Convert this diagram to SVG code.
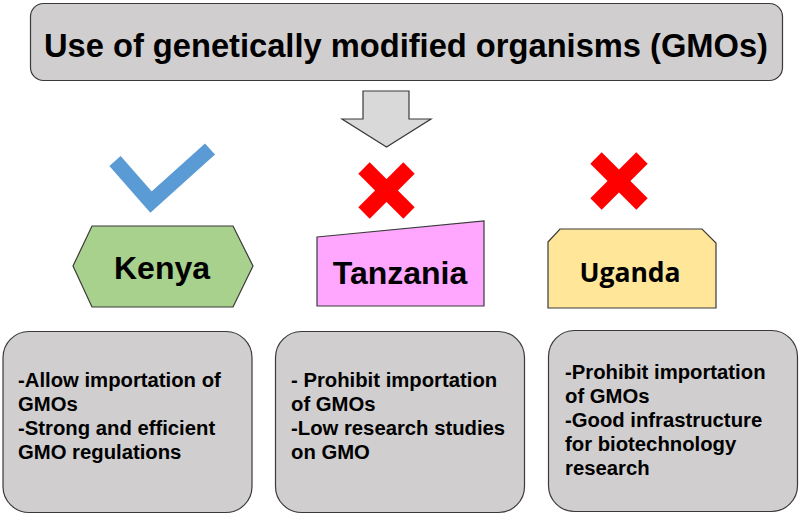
<svg xmlns="http://www.w3.org/2000/svg" width="800" height="516" viewBox="0 0 800 516">
<style>
.box{fill:#d0cece;stroke:#3a3a3a;stroke-width:1.2}
.t{font-family:"Liberation Sans",Arial,sans-serif;font-weight:bold;fill:#000}
.body{font-size:20.3px}
.lbl{font-size:32px;text-anchor:middle}
.x{stroke:#ff0000;stroke-width:16;fill:none}
</style>
<rect width="800" height="516" fill="#ffffff"/>
<g id="title">
<rect class="box" x="30.5" y="3.5" width="752" height="77" rx="13"/>
<text class="t" x="406" y="57" font-size="34" text-anchor="middle" textLength="724" lengthAdjust="spacingAndGlyphs">Use of genetically modified organisms (GMOs)</text>
</g>
<g id="connectors">
<polygon points="363,91 409,91 409,119 431,119 386.5,147 342,119 363,119" fill="#d9d9d9" stroke="#3a3a3a" stroke-width="1.2"/>
</g>
<g id="check">
<polyline points="115,161 151,202 210,149" fill="none" stroke="#5b9bd5" stroke-width="15" stroke-linejoin="miter"/>
</g>
<g id="cross-tanzania">
<line class="x" x1="364" y1="168" x2="409" y2="213"/>
<line class="x" x1="409" y1="168" x2="364" y2="213"/>
</g>
<g id="cross-uganda">
<line class="x" x1="596" y1="158" x2="642" y2="204"/>
<line class="x" x1="642" y1="158" x2="596" y2="204"/>
</g>
<g id="kenya">
<polygon points="73,266 92,226 233,226 253,266 233,307 92,307" fill="#a9d18e" stroke="#3a3a3a" stroke-width="1.2"/>
<text class="t lbl" x="162" y="279">Kenya</text>
</g>
<g id="tanzania">
<polygon points="317,237 484,221 484,306 317,306" fill="#ffa6ff" stroke="#3a3a3a" stroke-width="1.2"/>
<text class="t lbl" x="400" y="284">Tanzania</text>
</g>
<g id="uganda">
<polygon points="548,242 560,229 702,229 716,243 716,308 548,308" fill="#ffe699" stroke="#3a3a3a" stroke-width="1.2"/>
<text x="630" y="282" font-family="'Open Sans','Noto Sans',sans-serif" font-weight="bold" font-size="26.5" text-anchor="middle" fill="#000">Uganda</text>
</g>
<g id="kenya-notes">
<rect class="box" x="3" y="331.5" width="249" height="181" rx="26"/>
<text class="t body" x="18" y="387">
<tspan x="18" dy="0">-Allow importation of</tspan>
<tspan x="18" dy="24">GMOs</tspan>
<tspan x="18" dy="24">-Strong and efficient</tspan>
<tspan x="18" dy="24">GMO regulations</tspan>
</text>
</g>
<g id="tanzania-notes">
<rect class="box" x="275.5" y="331.5" width="249" height="181" rx="26"/>
<text class="t body" x="291" y="387">
<tspan x="291" dy="0">- Prohibit importation</tspan>
<tspan x="291" dy="24">of GMOs</tspan>
<tspan x="291" dy="24">-Low research studies</tspan>
<tspan x="291" dy="24">on GMO</tspan>
</text>
</g>
<g id="uganda-notes">
<rect class="box" x="548.5" y="330.5" width="249" height="181" rx="26"/>
<text class="t body" x="565" y="379">
<tspan x="565" dy="0">-Prohibit importation</tspan>
<tspan x="565" dy="24">of GMOs</tspan>
<tspan x="565" dy="24">-Good infrastructure</tspan>
<tspan x="565" dy="24">for biotechnology</tspan>
<tspan x="565" dy="24">research</tspan>
</text>
</g>
</svg>
